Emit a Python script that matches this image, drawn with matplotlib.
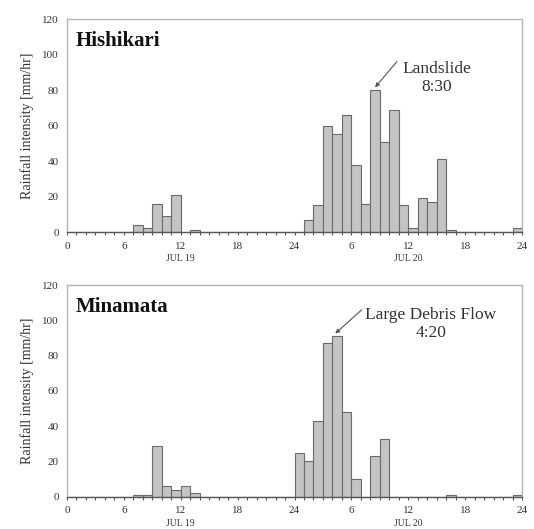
import numpy as np
import matplotlib
matplotlib.use('Agg')
import matplotlib.pyplot as plt
from matplotlib.ticker import MultipleLocator

# hours counted from 0:00 JUL 19 (0-48)
hours = np.arange(48)

hishikari = np.zeros(48)
hishikari_vals = {7: 4, 8: 2, 9: 16, 10: 9, 11: 21, 13: 1,
                  25: 7, 26: 15, 27: 60, 28: 55, 29: 66, 30: 38, 31: 16,
                  32: 80, 33: 51, 34: 69, 35: 15, 36: 2, 37: 19, 38: 17,
                  39: 41, 40: 1, 47: 2}
for h, v in hishikari_vals.items():
    hishikari[h] = v

minamata = np.zeros(48)
minamata_vals = {7: 1, 8: 1, 9: 29, 10: 6, 11: 4, 12: 6, 13: 2,
                 24: 25, 25: 20, 26: 43, 27: 87, 28: 91, 29: 48, 30: 10,
                 32: 23, 33: 33, 40: 1, 47: 1}
for h, v in minamata_vals.items():
    minamata[h] = v

xtick_pos = [0, 6, 12, 18, 24, 30, 36, 42, 48]
xtick_labels = ['0', '6', '12', '18', '24', '6', '12', '18', '24']
day_labels = ['JUL 19', 'JUL 20']
day_pos = [12, 36]

plt.rcParams['font.family'] = ['Liberation Serif', 'DejaVu Serif']
txt = '#333333'

fig = plt.figure(figsize=(5.34, 5.29), dpi=100)
ax1 = fig.add_axes([0.1255, 0.5614, 0.852, 0.4026])
ax2 = fig.add_axes([0.1255, 0.061, 0.852, 0.4002])


def setup(ax, data, name):
    ax.bar(hours, data, width=1.0, align='edge', color='#c4c4c4',
           edgecolor='#6a6a6a', linewidth=0.8, zorder=2)
    ax.set_xlim(0, 48)
    ax.set_ylim(0, 120)
    ax.set_yticks(np.arange(0, 121, 20))
    ax.set_xticks(xtick_pos)
    ax.set_xticklabels(xtick_labels)
    ax.xaxis.set_minor_locator(MultipleLocator(1))
    ax.tick_params(axis='y', length=0, pad=6, labelsize=8, labelcolor=txt)
    ax.tick_params(axis='x', which='both', length=2, width=0.8, color='#555555',
                   pad=5, labelsize=8, labelcolor=txt)
    for s in ['top', 'right', 'left']:
        ax.spines[s].set_color('#b5b5b5')
        ax.spines[s].set_linewidth(1.0)
    ax.spines['bottom'].set_color('#555555')
    ax.spines['bottom'].set_linewidth(1.0)
    ax.set_ylabel('Rainfall intensity [mm/hr]', fontsize=10, color=txt, labelpad=6)
    ax.text(0.02, 0.895, name, transform=ax.transAxes, fontsize=15,
            fontweight='bold', va='center', ha='left', color='#111111')
    for lab, p in zip(day_labels, day_pos):
        ax.annotate(lab, xy=(p, 0), xycoords=('data', 'axes fraction'),
                    xytext=(0, -19), textcoords='offset points',
                    ha='center', va='center', fontsize=7, color=txt)


setup(ax1, hishikari, 'Hishikari')
setup(ax2, minamata, 'Minamata')

ax1.text(39, 87, 'Landslide\n8:30', ha='center', va='center', fontsize=12.5,
         color=txt, linespacing=1.15)
ax1.annotate('', xy=(32.5, 81.5), xytext=(34.8, 96),
             arrowprops=dict(arrowstyle='-|>', color='#555555', lw=0.8,
                             mutation_scale=6, shrinkA=0, shrinkB=0))

ax2.text(38.4, 98, 'Large Debris Flow\n4:20', ha='center', va='center',
         fontsize=12.5, color=txt, linespacing=1.15)
ax2.annotate('', xy=(28.3, 92.5), xytext=(31.1, 106),
             arrowprops=dict(arrowstyle='-|>', color='#555555', lw=0.8,
                             mutation_scale=6, shrinkA=0, shrinkB=0))

plt.savefig('out.png', dpi=100)
